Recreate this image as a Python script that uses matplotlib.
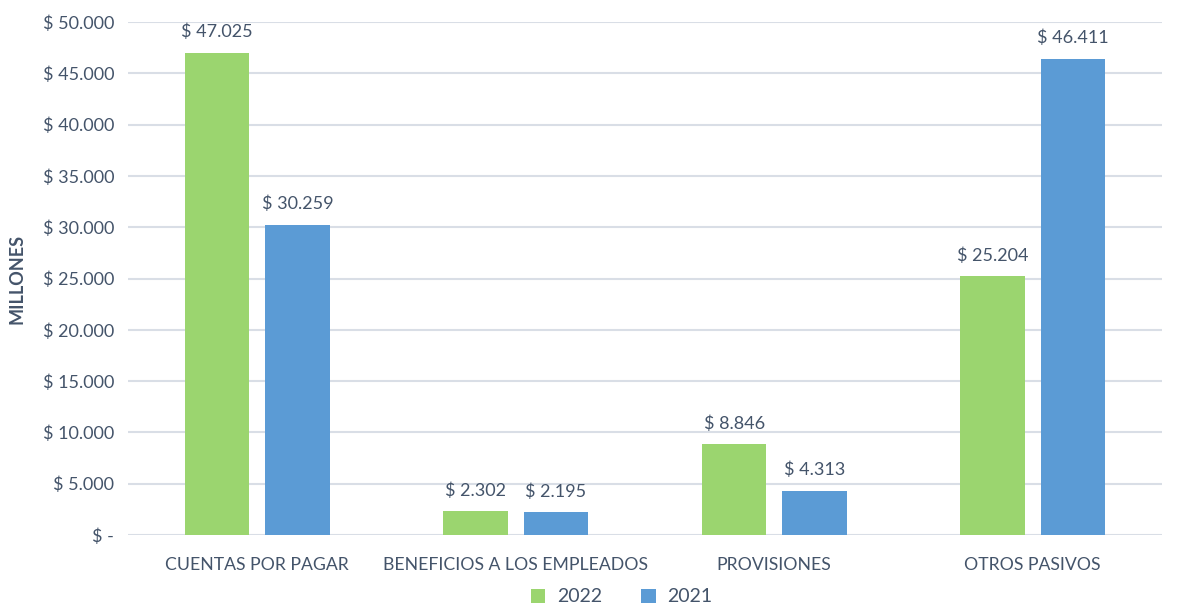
import matplotlib
matplotlib.use("Agg")
import matplotlib.pyplot as plt
from matplotlib.ticker import FuncFormatter
import numpy as np

categories = ["CUENTAS POR PAGAR", "BENEFICIOS A LOS EMPLEADOS", "PROVISIONES", "OTROS PASIVOS"]
series_names = ["2022", "2021"]
vals_2022 = [47025, 2302, 8846, 25204]
vals_2021 = [30259, 2195, 4313, 46411]

GREEN = "#9BD56F"
BLUE = "#5B9BD5"
TXT = "#44546A"
GRID = "#D9DEE6"

plt.rcParams["font.family"] = ["Lato", "DejaVu Sans"]


def money(v, _pos=None):
    if v == 0:
        return "$ -"
    return "$ " + f"{v:,.0f}".replace(",", ".")


fig = plt.figure(figsize=(11.84, 6.07), dpi=100)
ax = fig.add_axes([128 / 1184, 1 - 535 / 607, 1034 / 1184, 513 / 607])

x = np.arange(len(categories))
w = 0.25
off = 0.155
for vals, name, col, dx in [(vals_2022, series_names[0], GREEN, -off),
                            (vals_2021, series_names[1], BLUE, off)]:
    bars = ax.bar(x + dx, vals, width=w, color=col, label=name, zorder=3)
    for b, v in zip(bars, vals):
        ax.annotate(money(v), (b.get_x() + b.get_width() / 2, v), xytext=(0, 9),
                    textcoords="offset points", ha="center", va="bottom",
                    fontsize=13, color=TXT)

ax.set_xlim(-0.5, len(categories) - 0.5)
ax.set_ylim(0, 50000)
ax.set_yticks(np.arange(0, 50001, 5000))
ax.yaxis.set_major_formatter(FuncFormatter(money))
ax.set_xticks(x)
ax.set_xticklabels(categories)
ax.grid(axis="y", color=GRID, lw=1.5, zorder=0)
for s in ax.spines.values():
    s.set_visible(False)
ax.tick_params(axis="both", length=0, colors=TXT, labelsize=13)
ax.tick_params(axis="x", pad=16, labelsize=12.7)
ax.tick_params(axis="y", pad=10)
ax.set_ylabel("MILLONES", fontsize=13, fontweight="bold", color=TXT, labelpad=12)

fig.legend(*ax.get_legend_handles_labels(), loc="center", bbox_to_anchor=(0.525, 0.0165),
           ncol=2, frameon=False, fontsize=14, labelcolor=TXT, handlelength=0.75,
           handleheight=0.75, columnspacing=2.0, handletextpad=0.6, borderpad=0)

fig.savefig("out.png", dpi=100)
